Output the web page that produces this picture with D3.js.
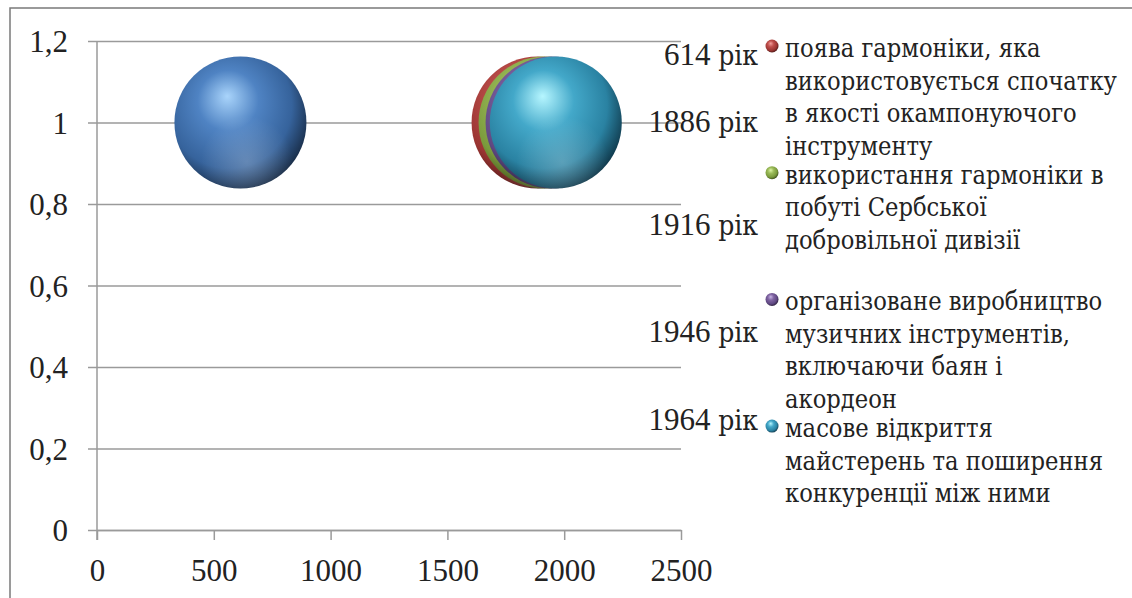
<!DOCTYPE html>
<html lang="uk">
<head>
<meta charset="utf-8">
<script src="https://cdn.jsdelivr.net/npm/d3@7/dist/d3.min.js"></script>
<style>
  html, body { margin: 0; padding: 0; background: #fff; }
  svg { display: block; }
</style>
</head>
<body>
<svg id="chart" width="1132" height="598"></svg>
<script>
// Years of key events in the history of the harmonica
const years = [614, 1886, 1916, 1946, 1964];
const yValues = [1, 1, 1, 1, 1];
const bubbleSizes = [1, 1, 1, 1, 1];
const yearSuffix = "рік";

// Legend entries (series 2–5), already broken into lines
const legendSeries = [1, 2, 3, 4];
const legendLines = [
  ["поява гармоніки, яка", "використовується спочатку", "в якості окампонуючого", "інструменту"],
  ["використання гармоніки в", "побуті Сербської", "добровільної дивізії"],
  ["організоване виробництво", "музичних інструментів,", "включаючи баян і", "акордеон"],
  ["масове відкриття", "майстерень та поширення", "конкуренції між ними"]
];

const xTicks = [0, 500, 1000, 1500, 2000, 2500];
const yTicks = [0, 0.2, 0.4, 0.6, 0.8, 1, 1.2];

// Sphere palettes: highlight, base, shade, rim
const palette = [
  ["#a9d4fb", "#4f83c3", "#36639c", "#14243a"],
  ["#f2a09c", "#c0504d", "#9a3532", "#3c1110"],
  ["#def5a6", "#9bbb59", "#7a9a3c", "#2e3c12"],
  ["#c8b6e6", "#8064a2", "#5f4882", "#22182f"],
  ["#b6f6ff", "#43a8c9", "#2a82a2", "#0b2c3c"]
];

// Manually placed point labels: right edge (x units) and baseline (y units)
const labelX = 2830;
const labelY = [1.141, 0.977, 0.724, 0.461, 0.245];

// digits use a Times-like face, Cyrillic words a serif face that carries Cyrillic
const latinSerif = '"Liberation Serif", "Times New Roman", serif';
const cyrSerif = '"DejaVu Serif Condensed", "DejaVu Serif", serif';

const svg = d3.select("#chart");
const x = d3.scaleLinear().domain([0, 2500]).range([97, 681]);
const y = d3.scaleLinear().domain([0, 1.2]).range([530, 41]);
const r = d3.scaleSqrt().domain([0, 1]).range([0, 66]);

const defs = svg.append("defs");
palette.forEach((c, i) => {
  const g = defs.append("radialGradient")
    .attr("id", "sph" + i)
    .attr("cx", "0.42").attr("cy", "0.4").attr("r", "0.66")
    .attr("fx", "0.4").attr("fy", "0.3");
  g.append("stop").attr("offset", "0").attr("stop-color", c[0]);
  g.append("stop").attr("offset", "0.35").attr("stop-color", c[1]);
  g.append("stop").attr("offset", "0.72").attr("stop-color", c[2]);
  g.append("stop").attr("offset", "1").attr("stop-color", c[3]);
});
// soft reflected light in the lower part of each sphere
const refl = defs.append("radialGradient").attr("id", "refl")
  .attr("cx", "0.55").attr("cy", "0.8").attr("r", "0.35");
refl.append("stop").attr("offset", "0").attr("stop-color", "#fff").attr("stop-opacity", 0.22);
refl.append("stop").attr("offset", "1").attr("stop-color", "#fff").attr("stop-opacity", 0);

// outer frame (top and left edges)
svg.append("path").attr("d", "M10,598 V8 H1132")
  .attr("fill", "none").attr("stroke", "#7a7a7a").attr("stroke-width", 1.5);

// horizontal gridlines with left tick stubs
const yAxis = d3.axisLeft(y).tickValues(yTicks).tickSize(0)
  .tickFormat(d => String(d).replace(".", ","));
const gy = svg.append("g").attr("transform", "translate(97,0)").call(yAxis)
  .attr("font-family", latinSerif).attr("font-size", 31);
gy.select(".domain").remove();
gy.selectAll(".tick line").attr("x1", -9).attr("x2", x(2500) - 97)
  .attr("stroke", "#9a9a9a").attr("stroke-width", 1.5);
gy.selectAll(".tick text").attr("x", -29).attr("dy", "0.34em").attr("fill", "#222");

// vertical axis line
svg.append("line").attr("x1", x(0)).attr("x2", x(0))
  .attr("y1", y(1.2)).attr("y2", y(0) + 10)
  .attr("stroke", "#9a9a9a").attr("stroke-width", 1.5);

// horizontal axis
const xAxis = d3.axisBottom(x).tickValues(xTicks).tickSize(10).tickSizeOuter(0)
  .tickFormat(d3.format("d"));
const gx = svg.append("g").attr("transform", `translate(0,${y(0)})`).call(xAxis)
  .attr("font-family", latinSerif).attr("font-size", 31);
gx.select(".domain").attr("stroke", "#9a9a9a").attr("stroke-width", 1.5);
gx.selectAll(".tick line").attr("stroke", "#9a9a9a").attr("stroke-width", 1.5);
gx.selectAll(".tick text").attr("y", 29).attr("dy", "0.71em").attr("fill", "#222");

// bubbles
const bub = svg.append("g").selectAll("g").data(years).join("g")
  .attr("transform", (d, i) => `translate(${x(d)},${y(yValues[i])})`);
bub.append("circle").attr("r", (d, i) => r(bubbleSizes[i]))
  .attr("fill", (d, i) => `url(#sph${i})`);
bub.append("circle").attr("r", (d, i) => r(bubbleSizes[i]))
  .attr("fill", "url(#refl)");

// point labels: "<year> рік"
const pl = svg.append("g").selectAll("text").data(years).join("text")
  .attr("x", x(labelX)).attr("y", (d, i) => y(labelY[i]))
  .attr("text-anchor", "end").attr("fill", "#222");
pl.append("tspan").attr("font-family", latinSerif).attr("font-size", 31)
  .text(d => d + " ");
pl.append("tspan").attr("font-family", cyrSerif).attr("font-size", 28)
  .text(yearSuffix);

// legend
const legTop = 57, legSlot = 126.7, lineH = 32.5;
const leg = svg.append("g").selectAll("g").data(legendSeries).join("g")
  .attr("transform", (d, i) => `translate(0,${legTop + i * legSlot})`);
leg.append("circle").attr("cx", 772).attr("cy", -11).attr("r", 6.5)
  .attr("fill", d => `url(#sph${d})`);
leg.append("text").attr("x", 785).attr("font-family", cyrSerif)
  .attr("font-size", 25.2).attr("fill", "#222")
  .selectAll("tspan").data((d, i) => legendLines[i]).join("tspan")
  .attr("x", 785).attr("y", (d, j) => j * lineH).text(d => d);
</script>
</body>
</html>
